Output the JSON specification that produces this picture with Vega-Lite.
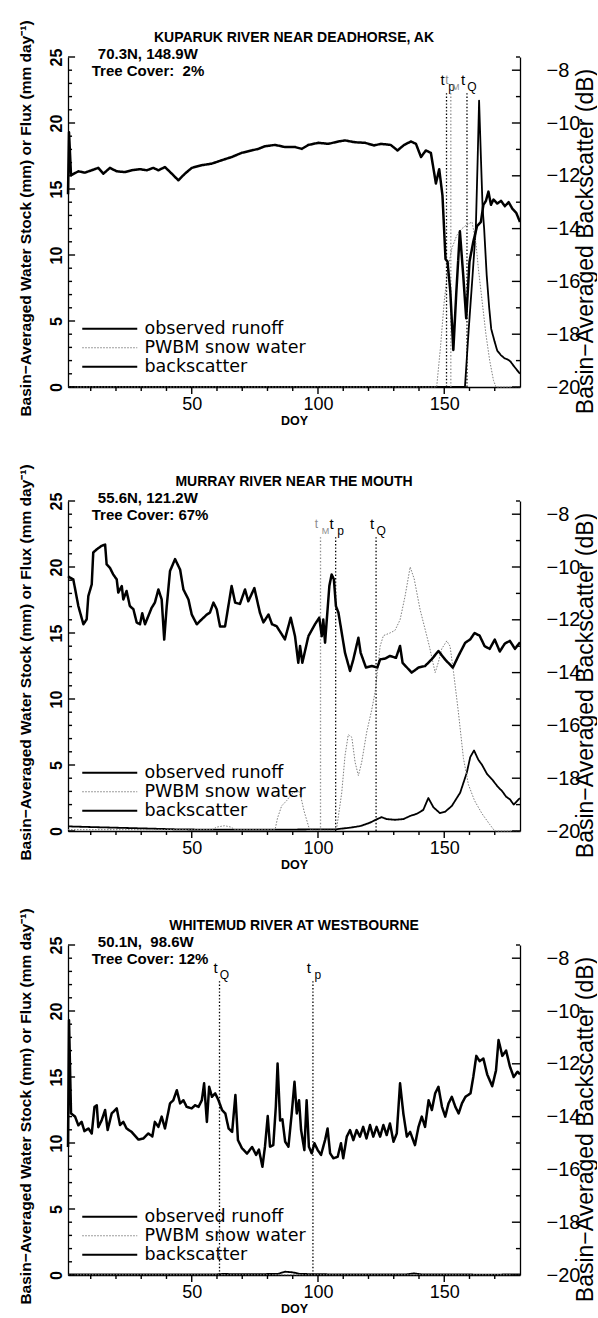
{
  "$schema": "https://vega.github.io/schema/vega-lite/v6.json",
  "background": "white",
  "padding": {"left": 17, "top": 19, "right": 0, "bottom": 0},
  "config": {
    "view": {"stroke": null},
    "font": "Liberation Sans",
    "axis": {"grid": false, "ticks": false, "domainColor": "black", "labelColor": "black", "titleColor": "black", "domainWidth": 1.3, "labelFont": "Liberation Sans", "titleFont": "Liberation Sans", "labelOverlap": false},
    "rule": {"color": "black"},
    "text": {"font": "Liberation Sans", "color": "black"}
  },
  "datasets": {
    "xticks": [{"doy":10},{"doy":20},{"doy":30},{"doy":40},{"doy":50},{"doy":60},{"doy":70},{"doy":80},{"doy":90},{"doy":100},{"doy":110},{"doy":120},{"doy":130},{"doy":140},{"doy":150},{"doy":160},{"doy":170}],
    "lticks": [{"v":0},{"v":1},{"v":2},{"v":3},{"v":4},{"v":5},{"v":6},{"v":7},{"v":8},{"v":9},{"v":10},{"v":11},{"v":12},{"v":13},{"v":14},{"v":15},{"v":16},{"v":17},{"v":18},{"v":19},{"v":20},{"v":21},{"v":22},{"v":23},{"v":24},{"v":25}],
    "rticks": [{"v":-20},{"v":-19},{"v":-18},{"v":-17},{"v":-16},{"v":-15},{"v":-14},{"v":-13},{"v":-12},{"v":-11},{"v":-10},{"v":-9},{"v":-8},{"v":-7.5}],
    "kuparuk": [
      {"doy":1,"series":"observed runoff","v":0},{"doy":158.2,"series":"observed runoff","v":0},{"doy":159.7,"series":"observed runoff","v":4.4},{"doy":161.2,"series":"observed runoff","v":8.4},{"doy":162.5,"series":"observed runoff","v":12},{"doy":163.2,"series":"observed runoff","v":17},{"doy":163.8,"series":"observed runoff","v":21.7},{"doy":164.5,"series":"observed runoff","v":17.5},{"doy":165.2,"series":"observed runoff","v":13.5},{"doy":165.8,"series":"observed runoff","v":12},{"doy":166.8,"series":"observed runoff","v":8.5},{"doy":167.8,"series":"observed runoff","v":6},{"doy":168.6,"series":"observed runoff","v":4.4},{"doy":170,"series":"observed runoff","v":3.4},{"doy":171,"series":"observed runoff","v":2.75},{"doy":172.5,"series":"observed runoff","v":2.4},{"doy":173.9,"series":"observed runoff","v":2.17},{"doy":175,"series":"observed runoff","v":2.1},{"doy":176.2,"series":"observed runoff","v":1.94},{"doy":177.5,"series":"observed runoff","v":1.6},{"doy":178.5,"series":"observed runoff","v":1.36},{"doy":180,"series":"observed runoff","v":1},
      {"doy":1,"series":"PWBM snow water","v":0},{"doy":147,"series":"PWBM snow water","v":0},{"doy":148.5,"series":"PWBM snow water","v":3},{"doy":150,"series":"PWBM snow water","v":6.5},{"doy":151.5,"series":"PWBM snow water","v":9},{"doy":153,"series":"PWBM snow water","v":10.5},{"doy":155,"series":"PWBM snow water","v":11.5},{"doy":157,"series":"PWBM snow water","v":12},{"doy":159,"series":"PWBM snow water","v":12.3},{"doy":161,"series":"PWBM snow water","v":12.5},{"doy":162.5,"series":"PWBM snow water","v":11},{"doy":163.5,"series":"PWBM snow water","v":9},{"doy":165,"series":"PWBM snow water","v":6.5},{"doy":166.5,"series":"PWBM snow water","v":4},{"doy":168,"series":"PWBM snow water","v":2},{"doy":169.5,"series":"PWBM snow water","v":0.5},{"doy":170.5,"series":"PWBM snow water","v":0},{"doy":180,"series":"PWBM snow water","v":0},
      {"doy":1,"series":"backscatter","v":-12.7},{"doy":1.4,"series":"backscatter","v":-10.35},{"doy":2.2,"series":"backscatter","v":-11.98},{"doy":5.1,"series":"backscatter","v":-11.83},{"doy":7.7,"series":"backscatter","v":-11.88},{"doy":10.4,"series":"backscatter","v":-11.79},{"doy":13,"series":"backscatter","v":-11.7},{"doy":15,"series":"backscatter","v":-11.92},{"doy":17.6,"series":"backscatter","v":-11.7},{"doy":20.3,"series":"backscatter","v":-11.83},{"doy":23.6,"series":"backscatter","v":-11.86},{"doy":26.2,"series":"backscatter","v":-11.79},{"doy":29.5,"series":"backscatter","v":-11.75},{"doy":32.2,"series":"backscatter","v":-11.79},{"doy":34.8,"series":"backscatter","v":-11.7},{"doy":36.8,"series":"backscatter","v":-11.79},{"doy":39.4,"series":"backscatter","v":-11.67},{"doy":42.1,"series":"backscatter","v":-11.92},{"doy":44.7,"series":"backscatter","v":-12.17},{"doy":47.3,"series":"backscatter","v":-11.92},{"doy":50,"series":"backscatter","v":-11.7},{"doy":53.9,"series":"backscatter","v":-11.6},{"doy":57.9,"series":"backscatter","v":-11.54},{"doy":61.9,"series":"backscatter","v":-11.41},{"doy":65.8,"series":"backscatter","v":-11.29},{"doy":69.8,"series":"backscatter","v":-11.13},{"doy":73.7,"series":"backscatter","v":-11.04},{"doy":76.4,"series":"backscatter","v":-10.98},{"doy":79,"series":"backscatter","v":-10.88},{"doy":83,"series":"backscatter","v":-10.83},{"doy":86.9,"series":"backscatter","v":-10.91},{"doy":90.9,"series":"backscatter","v":-10.91},{"doy":93.6,"series":"backscatter","v":-10.98},{"doy":96.2,"series":"backscatter","v":-10.83},{"doy":100.2,"series":"backscatter","v":-10.75},{"doy":104.1,"series":"backscatter","v":-10.79},{"doy":108.1,"series":"backscatter","v":-10.7},{"doy":110.7,"series":"backscatter","v":-10.66},{"doy":114.7,"series":"backscatter","v":-10.73},{"doy":118.6,"series":"backscatter","v":-10.75},{"doy":122.2,"series":"backscatter","v":-10.85},{"doy":124.9,"series":"backscatter","v":-10.79},{"doy":128.8,"series":"backscatter","v":-10.83},{"doy":131.5,"series":"backscatter","v":-11.04},{"doy":134.1,"series":"backscatter","v":-10.83},{"doy":136.8,"series":"backscatter","v":-10.7},{"doy":138.8,"series":"backscatter","v":-10.79},{"doy":140.8,"series":"backscatter","v":-11.29},{"doy":142.7,"series":"backscatter","v":-11.04},{"doy":144.7,"series":"backscatter","v":-11.13},{"doy":146.7,"series":"backscatter","v":-12.29},{"doy":148,"series":"backscatter","v":-11.75},{"doy":149.3,"series":"backscatter","v":-12.75},{"doy":150.5,"series":"backscatter","v":-15.15},{"doy":151.3,"series":"backscatter","v":-15.25},{"doy":152.4,"series":"backscatter","v":-16.38},{"doy":153.6,"series":"backscatter","v":-18.6},{"doy":154.8,"series":"backscatter","v":-16.38},{"doy":156.2,"series":"backscatter","v":-14.1},{"doy":157.5,"series":"backscatter","v":-15.75},{"doy":158.7,"series":"backscatter","v":-17.4},{"doy":160,"series":"backscatter","v":-15.25},{"doy":161.5,"series":"backscatter","v":-14.5},{"doy":163,"series":"backscatter","v":-13.9},{"doy":164.5,"series":"backscatter","v":-13.75},{"doy":165.5,"series":"backscatter","v":-13.1},{"doy":166.5,"series":"backscatter","v":-12.95},{"doy":167.5,"series":"backscatter","v":-12.6},{"doy":168.5,"series":"backscatter","v":-13.1},{"doy":169.5,"series":"backscatter","v":-12.9},{"doy":171,"series":"backscatter","v":-13.05},{"doy":172.5,"series":"backscatter","v":-12.95},{"doy":174,"series":"backscatter","v":-13.15},{"doy":175.5,"series":"backscatter","v":-13},{"doy":177,"series":"backscatter","v":-13.25},{"doy":178.5,"series":"backscatter","v":-13.4},{"doy":180,"series":"backscatter","v":-13.75}
    ],
    "kuparuk_t": [{"doy":150.9,"sub":"p"},{"doy":152.6,"sub":"M"},{"doy":159,"sub":"Q"}],
    "murray": [
      {"doy":1,"series":"observed runoff","v":0.35},{"doy":10,"series":"observed runoff","v":0.3},{"doy":20,"series":"observed runoff","v":0.25},{"doy":30,"series":"observed runoff","v":0.2},{"doy":45,"series":"observed runoff","v":0.12},{"doy":60,"series":"observed runoff","v":0.1},{"doy":80,"series":"observed runoff","v":0.1},{"doy":100,"series":"observed runoff","v":0.12},{"doy":107,"series":"observed runoff","v":0.13},{"doy":112.7,"series":"observed runoff","v":0.25},{"doy":116.9,"series":"observed runoff","v":0.38},{"doy":120.6,"series":"observed runoff","v":0.63},{"doy":123.2,"series":"observed runoff","v":0.88},{"doy":125.2,"series":"observed runoff","v":1.05},{"doy":127.2,"series":"observed runoff","v":0.9},{"doy":130.5,"series":"observed runoff","v":0.85},{"doy":133.8,"series":"observed runoff","v":0.9},{"doy":136.5,"series":"observed runoff","v":1.14},{"doy":139.1,"series":"observed runoff","v":1.3},{"doy":141.7,"series":"observed runoff","v":1.6},{"doy":143.7,"series":"observed runoff","v":2.5},{"doy":145.7,"series":"observed runoff","v":1.8},{"doy":148.3,"series":"observed runoff","v":1.35},{"doy":150.3,"series":"observed runoff","v":1.45},{"doy":153,"series":"observed runoff","v":1.9},{"doy":156.3,"series":"observed runoff","v":2.9},{"doy":158.9,"series":"observed runoff","v":4.4},{"doy":160.3,"series":"observed runoff","v":5.6},{"doy":161.8,"series":"observed runoff","v":6.1},{"doy":163.5,"series":"observed runoff","v":5.4},{"doy":165,"series":"observed runoff","v":5},{"doy":167,"series":"observed runoff","v":4.3},{"doy":169,"series":"observed runoff","v":3.9},{"doy":171,"series":"observed runoff","v":3.4},{"doy":173,"series":"observed runoff","v":3},{"doy":174.5,"series":"observed runoff","v":2.6},{"doy":176,"series":"observed runoff","v":2.4},{"doy":177.5,"series":"observed runoff","v":2},{"doy":179,"series":"observed runoff","v":2.3},{"doy":180,"series":"observed runoff","v":2.5},
      {"doy":1,"series":"PWBM snow water","v":0.1},{"doy":58,"series":"PWBM snow water","v":0.1},{"doy":60,"series":"PWBM snow water","v":0.3},{"doy":63,"series":"PWBM snow water","v":0.4},{"doy":65.5,"series":"PWBM snow water","v":0.3},{"doy":67,"series":"PWBM snow water","v":0.1},{"doy":83,"series":"PWBM snow water","v":0.1},{"doy":84,"series":"PWBM snow water","v":1},{"doy":85.6,"series":"PWBM snow water","v":1.9},{"doy":87.6,"series":"PWBM snow water","v":2.3},{"doy":89.6,"series":"PWBM snow water","v":2.8},{"doy":92.2,"series":"PWBM snow water","v":3.1},{"doy":93.2,"series":"PWBM snow water","v":2.6},{"doy":94.5,"series":"PWBM snow water","v":1.5},{"doy":96.5,"series":"PWBM snow water","v":0.2},{"doy":98,"series":"PWBM snow water","v":0.05},{"doy":106.5,"series":"PWBM snow water","v":0.05},{"doy":107.4,"series":"PWBM snow water","v":0.2},{"doy":109.4,"series":"PWBM snow water","v":2.9},{"doy":110.7,"series":"PWBM snow water","v":5.7},{"doy":112,"series":"PWBM snow water","v":7.3},{"doy":113.4,"series":"PWBM snow water","v":7.1},{"doy":114.7,"series":"PWBM snow water","v":5.2},{"doy":116,"series":"PWBM snow water","v":4.2},{"doy":117.3,"series":"PWBM snow water","v":5.2},{"doy":119.3,"series":"PWBM snow water","v":7.5},{"doy":121.3,"series":"PWBM snow water","v":9.2},{"doy":122.6,"series":"PWBM snow water","v":10.5},{"doy":123.5,"series":"PWBM snow water","v":12},{"doy":124.6,"series":"PWBM snow water","v":14},{"doy":125.9,"series":"PWBM snow water","v":14.8},{"doy":128.5,"series":"PWBM snow water","v":15},{"doy":130.5,"series":"PWBM snow water","v":15.2},{"doy":132.5,"series":"PWBM snow water","v":16},{"doy":134.5,"series":"PWBM snow water","v":17.8},{"doy":136.5,"series":"PWBM snow water","v":20},{"doy":138.1,"series":"PWBM snow water","v":19.1},{"doy":140.4,"series":"PWBM snow water","v":16.8},{"doy":142.4,"series":"PWBM snow water","v":15.3},{"doy":144.1,"series":"PWBM snow water","v":14},{"doy":146.4,"series":"PWBM snow water","v":12},{"doy":147.7,"series":"PWBM snow water","v":12.8},{"doy":149,"series":"PWBM snow water","v":13.8},{"doy":151,"series":"PWBM snow water","v":14.4},{"doy":152.3,"series":"PWBM snow water","v":14},{"doy":153.7,"series":"PWBM snow water","v":12},{"doy":155.6,"series":"PWBM snow water","v":9},{"doy":157.6,"series":"PWBM snow water","v":5.5},{"doy":159.6,"series":"PWBM snow water","v":3.5},{"doy":162,"series":"PWBM snow water","v":2.3},{"doy":165,"series":"PWBM snow water","v":1.3},{"doy":168,"series":"PWBM snow water","v":0.5},{"doy":170,"series":"PWBM snow water","v":0},{"doy":180,"series":"PWBM snow water","v":0},
      {"doy":1,"series":"backscatter","v":-10.35},{"doy":1.8,"series":"backscatter","v":-10.4},{"doy":3.1,"series":"backscatter","v":-10.47},{"doy":5.1,"series":"backscatter","v":-11.48},{"doy":7.1,"series":"backscatter","v":-12.17},{"doy":8.4,"series":"backscatter","v":-11.98},{"doy":9.05,"series":"backscatter","v":-11.1},{"doy":10.4,"series":"backscatter","v":-10.66},{"doy":11,"series":"backscatter","v":-9.45},{"doy":12.4,"series":"backscatter","v":-9.33},{"doy":14.3,"series":"backscatter","v":-9.2},{"doy":15.7,"series":"backscatter","v":-9.15},{"doy":16.3,"series":"backscatter","v":-9.9},{"doy":17.6,"series":"backscatter","v":-10.03},{"doy":18.9,"series":"backscatter","v":-10.28},{"doy":20.3,"series":"backscatter","v":-10.47},{"doy":20.9,"series":"backscatter","v":-10.97},{"doy":22.3,"series":"backscatter","v":-10.72},{"doy":22.9,"series":"backscatter","v":-11.23},{"doy":24.2,"series":"backscatter","v":-10.91},{"doy":25.5,"series":"backscatter","v":-11.48},{"doy":26.9,"series":"backscatter","v":-11.6},{"doy":28.2,"series":"backscatter","v":-12.1},{"doy":29.5,"series":"backscatter","v":-12.17},{"doy":30.4,"series":"backscatter","v":-11.75},{"doy":31.5,"series":"backscatter","v":-12.17},{"doy":34.1,"series":"backscatter","v":-11.55},{"doy":35.4,"series":"backscatter","v":-11.35},{"doy":36.8,"series":"backscatter","v":-10.85},{"doy":38.1,"series":"backscatter","v":-11.23},{"doy":39.1,"series":"backscatter","v":-12.75},{"doy":40.1,"series":"backscatter","v":-11.48},{"doy":41.4,"series":"backscatter","v":-10.15},{"doy":43.4,"series":"backscatter","v":-9.7},{"doy":45.4,"series":"backscatter","v":-10.1},{"doy":46.7,"series":"backscatter","v":-10.85},{"doy":48.7,"series":"backscatter","v":-11.23},{"doy":50,"series":"backscatter","v":-11.8},{"doy":52,"series":"backscatter","v":-12.17},{"doy":54,"series":"backscatter","v":-11.98},{"doy":56,"series":"backscatter","v":-11.8},{"doy":57.2,"series":"backscatter","v":-11.73},{"doy":58.6,"series":"backscatter","v":-11.35},{"doy":59.9,"series":"backscatter","v":-11.6},{"doy":61.2,"series":"backscatter","v":-12.25},{"doy":63.2,"series":"backscatter","v":-12.25},{"doy":65.8,"series":"backscatter","v":-10.72},{"doy":67.2,"series":"backscatter","v":-11.35},{"doy":69.1,"series":"backscatter","v":-11.4},{"doy":71.1,"series":"backscatter","v":-10.85},{"doy":72.4,"series":"backscatter","v":-11.3},{"doy":74.8,"series":"backscatter","v":-10.8},{"doy":77,"series":"backscatter","v":-11.73},{"doy":78.4,"series":"backscatter","v":-12.1},{"doy":80.4,"series":"backscatter","v":-11.8},{"doy":81.8,"series":"backscatter","v":-12.17},{"doy":83.6,"series":"backscatter","v":-12.24},{"doy":86.9,"series":"backscatter","v":-12.74},{"doy":89.2,"series":"backscatter","v":-11.92},{"doy":90.9,"series":"backscatter","v":-12.62},{"doy":92.2,"series":"backscatter","v":-13.63},{"doy":92.9,"series":"backscatter","v":-12.99},{"doy":93.8,"series":"backscatter","v":-13.63},{"doy":96.2,"series":"backscatter","v":-12.62},{"doy":98.8,"series":"backscatter","v":-12.17},{"doy":100.5,"series":"backscatter","v":-11.92},{"doy":101.5,"series":"backscatter","v":-12.62},{"doy":102.1,"series":"backscatter","v":-11.99},{"doy":102.8,"series":"backscatter","v":-12.87},{"doy":104.5,"series":"backscatter","v":-10.72},{"doy":105.4,"series":"backscatter","v":-10.28},{"doy":106.3,"series":"backscatter","v":-10.47},{"doy":107.1,"series":"backscatter","v":-11.48},{"doy":108.1,"series":"backscatter","v":-11.73},{"doy":109.4,"series":"backscatter","v":-12.49},{"doy":110.7,"series":"backscatter","v":-13.25},{"doy":112.7,"series":"backscatter","v":-13.94},{"doy":114,"series":"backscatter","v":-13.5},{"doy":116,"series":"backscatter","v":-12.68},{"doy":116.9,"series":"backscatter","v":-13.25},{"doy":119,"series":"backscatter","v":-13.81},{"doy":121.3,"series":"backscatter","v":-13.75},{"doy":123.5,"series":"backscatter","v":-13.81},{"doy":124.6,"series":"backscatter","v":-13.5},{"doy":126.5,"series":"backscatter","v":-13.47},{"doy":128.5,"series":"backscatter","v":-13.37},{"doy":130.9,"series":"backscatter","v":-13.44},{"doy":132.5,"series":"backscatter","v":-12.99},{"doy":133.5,"series":"backscatter","v":-13.63},{"doy":137.1,"series":"backscatter","v":-14},{"doy":139.8,"series":"backscatter","v":-13.81},{"doy":142.4,"series":"backscatter","v":-13.75},{"doy":145,"series":"backscatter","v":-13.5},{"doy":147.7,"series":"backscatter","v":-13.18},{"doy":150.3,"series":"backscatter","v":-13.5},{"doy":153.4,"series":"backscatter","v":-13.81},{"doy":155.6,"series":"backscatter","v":-13.37},{"doy":158.3,"series":"backscatter","v":-12.87},{"doy":160.3,"series":"backscatter","v":-12.74},{"doy":162,"series":"backscatter","v":-12.5},{"doy":164,"series":"backscatter","v":-12.6},{"doy":166,"series":"backscatter","v":-13},{"doy":168,"series":"backscatter","v":-13.1},{"doy":170,"series":"backscatter","v":-12.75},{"doy":172,"series":"backscatter","v":-13.2},{"doy":174,"series":"backscatter","v":-12.9},{"doy":176,"series":"backscatter","v":-12.8},{"doy":178,"series":"backscatter","v":-13.1},{"doy":180,"series":"backscatter","v":-12.85}
    ],
    "murray_t": [{"doy":101,"sub":"M"},{"doy":107,"sub":"p"},{"doy":123,"sub":"Q"}],
    "whitemud": [
      {"doy":1,"series":"observed runoff","v":0.05},{"doy":60,"series":"observed runoff","v":0.05},{"doy":62,"series":"observed runoff","v":0.08},{"doy":70,"series":"observed runoff","v":0.06},{"doy":84,"series":"observed runoff","v":0.08},{"doy":87,"series":"observed runoff","v":0.25},{"doy":90,"series":"observed runoff","v":0.2},{"doy":93,"series":"observed runoff","v":0.08},{"doy":110,"series":"observed runoff","v":0.04},{"doy":135,"series":"observed runoff","v":0.05},{"doy":138,"series":"observed runoff","v":0.12},{"doy":141,"series":"observed runoff","v":0.05},{"doy":170,"series":"observed runoff","v":0.03},{"doy":180,"series":"observed runoff","v":0.05},
      {"doy":1,"series":"PWBM snow water","v":0.02},{"doy":180,"series":"PWBM snow water","v":0.02},
      {"doy":1,"series":"backscatter","v":-15.15},{"doy":1.4,"series":"backscatter","v":-10.35},{"doy":2.2,"series":"backscatter","v":-13.88},{"doy":3.8,"series":"backscatter","v":-14},{"doy":5.1,"series":"backscatter","v":-14.33},{"doy":6.4,"series":"backscatter","v":-14.2},{"doy":7.5,"series":"backscatter","v":-14.55},{"doy":9.1,"series":"backscatter","v":-14.45},{"doy":10.4,"series":"backscatter","v":-14.64},{"doy":11.5,"series":"backscatter","v":-13.63},{"doy":12.4,"series":"backscatter","v":-13.57},{"doy":13,"series":"backscatter","v":-14.4},{"doy":14.3,"series":"backscatter","v":-14.15},{"doy":15.7,"series":"backscatter","v":-13.75},{"doy":16.7,"series":"backscatter","v":-14.51},{"doy":18.3,"series":"backscatter","v":-13.88},{"doy":20.3,"series":"backscatter","v":-13.69},{"doy":21.6,"series":"backscatter","v":-14.32},{"doy":22.9,"series":"backscatter","v":-14.2},{"doy":24.2,"series":"backscatter","v":-14.45},{"doy":26.2,"series":"backscatter","v":-14.58},{"doy":28.9,"series":"backscatter","v":-14.87},{"doy":30.8,"series":"backscatter","v":-14.83},{"doy":32.8,"series":"backscatter","v":-14.64},{"doy":34.4,"series":"backscatter","v":-14.75},{"doy":35.4,"series":"backscatter","v":-14.2},{"doy":36.8,"series":"backscatter","v":-14.39},{"doy":38.1,"series":"backscatter","v":-14},{"doy":39.4,"series":"backscatter","v":-14.45},{"doy":41.4,"series":"backscatter","v":-13.5},{"doy":42.7,"series":"backscatter","v":-13.38},{"doy":44.1,"series":"backscatter","v":-13},{"doy":45.4,"series":"backscatter","v":-13.5},{"doy":46.7,"series":"backscatter","v":-13.38},{"doy":48,"series":"backscatter","v":-13.63},{"doy":50,"series":"backscatter","v":-13.69},{"doy":51.3,"series":"backscatter","v":-13.57},{"doy":52.7,"series":"backscatter","v":-13.63},{"doy":54,"series":"backscatter","v":-13.38},{"doy":54.9,"series":"backscatter","v":-12.74},{"doy":56,"series":"backscatter","v":-14.2},{"doy":56.9,"series":"backscatter","v":-12.87},{"doy":58,"series":"backscatter","v":-13.25},{"doy":59.3,"series":"backscatter","v":-13.12},{"doy":60.6,"series":"backscatter","v":-13.38},{"doy":62,"series":"backscatter","v":-13.75},{"doy":63.3,"series":"backscatter","v":-13.88},{"doy":64.6,"series":"backscatter","v":-14.45},{"doy":66,"series":"backscatter","v":-14.58},{"doy":67.3,"series":"backscatter","v":-13.18},{"doy":68.3,"series":"backscatter","v":-14.89},{"doy":69.9,"series":"backscatter","v":-15.2},{"doy":71.9,"series":"backscatter","v":-15.4},{"doy":73.9,"series":"backscatter","v":-15.15},{"doy":75.5,"series":"backscatter","v":-15.45},{"doy":76.6,"series":"backscatter","v":-15.25},{"doy":78,"series":"backscatter","v":-15.9},{"doy":79,"series":"backscatter","v":-15.14},{"doy":80.1,"series":"backscatter","v":-13.98},{"doy":81,"series":"backscatter","v":-15.14},{"doy":82.3,"series":"backscatter","v":-15.08},{"doy":83.3,"series":"backscatter","v":-13.63},{"doy":84,"series":"backscatter","v":-11.99},{"doy":85,"series":"backscatter","v":-14.15},{"doy":85.9,"series":"backscatter","v":-14.1},{"doy":87,"series":"backscatter","v":-14.95},{"doy":88.3,"series":"backscatter","v":-15.14},{"doy":89.6,"series":"backscatter","v":-13.88},{"doy":90.7,"series":"backscatter","v":-12.68},{"doy":91.6,"series":"backscatter","v":-13.88},{"doy":92.5,"series":"backscatter","v":-13.38},{"doy":93.3,"series":"backscatter","v":-14.5},{"doy":94.6,"series":"backscatter","v":-15.27},{"doy":95.5,"series":"backscatter","v":-13.38},{"doy":96.4,"series":"backscatter","v":-15.14},{"doy":97.5,"series":"backscatter","v":-15.39},{"doy":98.6,"series":"backscatter","v":-15.01},{"doy":99.9,"series":"backscatter","v":-15.27},{"doy":101.2,"series":"backscatter","v":-15.45},{"doy":102.8,"series":"backscatter","v":-14.89},{"doy":103.8,"series":"backscatter","v":-14.45},{"doy":104.8,"series":"backscatter","v":-15.39},{"doy":106.1,"series":"backscatter","v":-15.58},{"doy":107.8,"series":"backscatter","v":-15.52},{"doy":109.1,"series":"backscatter","v":-15.01},{"doy":110,"series":"backscatter","v":-15.58},{"doy":111.4,"series":"backscatter","v":-14.76},{"doy":112.7,"series":"backscatter","v":-14.51},{"doy":114,"series":"backscatter","v":-14.89},{"doy":115.3,"series":"backscatter","v":-14.51},{"doy":116.6,"series":"backscatter","v":-14.76},{"doy":117.9,"series":"backscatter","v":-14.39},{"doy":119.2,"series":"backscatter","v":-14.83},{"doy":120.6,"series":"backscatter","v":-14.32},{"doy":121.9,"series":"backscatter","v":-14.76},{"doy":123.2,"series":"backscatter","v":-14.39},{"doy":124.6,"series":"backscatter","v":-14.76},{"doy":125.9,"series":"backscatter","v":-14.32},{"doy":127.2,"series":"backscatter","v":-14.7},{"doy":128.5,"series":"backscatter","v":-14.26},{"doy":129.9,"series":"backscatter","v":-14.95},{"doy":131.2,"series":"backscatter","v":-14.64},{"doy":132.5,"series":"backscatter","v":-12.74},{"doy":133.8,"series":"backscatter","v":-13.88},{"doy":135.2,"series":"backscatter","v":-14.76},{"doy":136.5,"series":"backscatter","v":-14.58},{"doy":138.4,"series":"backscatter","v":-15.08},{"doy":139.8,"series":"backscatter","v":-14.39},{"doy":141.1,"series":"backscatter","v":-14},{"doy":142.4,"series":"backscatter","v":-14.39},{"doy":143.8,"series":"backscatter","v":-13.38},{"doy":145.1,"series":"backscatter","v":-13.75},{"doy":146.4,"series":"backscatter","v":-13.12},{"doy":147.7,"series":"backscatter","v":-12.87},{"doy":149.1,"series":"backscatter","v":-13.63},{"doy":150.4,"series":"backscatter","v":-14},{"doy":151.7,"series":"backscatter","v":-13.5},{"doy":153,"series":"backscatter","v":-13.25},{"doy":154.4,"series":"backscatter","v":-13.63},{"doy":155.7,"series":"backscatter","v":-13.88},{"doy":157,"series":"backscatter","v":-13.5},{"doy":158.4,"series":"backscatter","v":-13.25},{"doy":160.4,"series":"backscatter","v":-13.12},{"doy":161.5,"series":"backscatter","v":-12.5},{"doy":162.7,"series":"backscatter","v":-11.7},{"doy":164,"series":"backscatter","v":-11.9},{"doy":165.5,"series":"backscatter","v":-11.8},{"doy":167,"series":"backscatter","v":-12.4},{"doy":169,"series":"backscatter","v":-12.85},{"doy":170.5,"series":"backscatter","v":-12.25},{"doy":171.5,"series":"backscatter","v":-11.1},{"doy":173,"series":"backscatter","v":-11.7},{"doy":174.5,"series":"backscatter","v":-11.5},{"doy":176,"series":"backscatter","v":-12.1},{"doy":177.5,"series":"backscatter","v":-12.5},{"doy":179,"series":"backscatter","v":-12.3},{"doy":180,"series":"backscatter","v":-12.4}
    ],
    "whitemud_t": [{"doy":61,"sub":"Q"},{"doy":98,"sub":"p"}]
  },
  "vconcat": [
    {
      "width": 452, "height": 330,
      "layer": [
        {
          "layer": [
            {
              "data": {"name": "kuparuk"},
              "transform": [{"filter": "datum.series !== 'backscatter'"}],
              "mark": {"type": "line", "strokeJoin": "round"},
              "encoding": {
                "x": {"field": "doy", "type": "quantitative", "scale": {"domain": [1, 180], "nice": false, "zero": false},
                  "axis": {"title": "DOY", "values": [50, 100, 150], "labelFontSize": 18, "labelPadding": 8, "labelFlush": false, "titleFontSize": 12.5, "titleFontWeight": "bold", "titlePadding": 1}},
                "y": {"field": "v", "type": "quantitative", "scale": {"domain": [0, 25], "nice": false},
                  "axis": {"title": "Basin−Averaged Water Stock (mm) or Flux (mm day⁻¹)", "values": [0, 5, 10, 15, 20, 25], "labelFlush": false, "labelAngle": -90, "labelAlign": "center", "labelBaseline": "bottom", "labelFontSize": 16, "labelFontWeight": "bold", "labelPadding": 4, "titleX": -43, "titleY": 161, "titleAngle": -90, "titleAlign": "center", "titleBaseline": "middle", "titleFontSize": 15.5, "titleFontWeight": "bold"}},
                "color": {"field": "series", "type": "nominal", "scale": {"domain": ["observed runoff", "PWBM snow water", "backscatter"], "range": ["#000000", "#7d7d7d", "#000000"]},
                  "legend": {"orient": "none", "legendX": 33, "legendY": 263, "title": null, "symbolType": "M-5,0H5", "symbolSize": 121, "labelOffset": 26, "labelFont": "DejaVu Sans", "labelFontSize": 17.5, "labelLimit": 0, "labelColor": "black", "rowPadding": 0, "padding": 0,
                    "encode": {"symbols": {"update": {"stroke": {"signal": "datum.value === 'PWBM snow water' ? '#7d7d7d' : '#000000'"}, "strokeDash": {"signal": "datum.value === 'PWBM snow water' ? [1.5, 1.5] : [1, 0]"}, "strokeWidth": {"signal": "datum.value === 'PWBM snow water' ? 1 : (datum.value === 'backscatter' ? 2.2 : 1.8)"}, "opacity": {"value": 1}}}}}},
                "strokeDash": {"field": "series", "type": "nominal", "legend": null, "scale": {"domain": ["observed runoff", "PWBM snow water", "backscatter"], "range": [[1, 0], [1.5, 1.5], [1, 0]]}},
                "strokeWidth": {"field": "series", "type": "nominal", "legend": null, "scale": {"type": "ordinal", "domain": ["observed runoff", "PWBM snow water", "backscatter"], "range": [1.8, 1, 2.2]}}
              }
            },
            {"data": {"name": "xticks"}, "transform": [{"filter": "datum.doy % 50 !== 0"}], "mark": {"type": "rule", "strokeWidth": 1.4}, "encoding": {"x": {"field": "doy", "type": "quantitative"}, "y": {"datum": 0}, "y2": {"datum": -0.3}}},
            {"data": {"name": "xticks"}, "transform": [{"filter": "datum.doy % 50 === 0"}], "mark": {"type": "rule", "strokeWidth": 1.4}, "encoding": {"x": {"field": "doy", "type": "quantitative"}, "y": {"datum": 0}, "y2": {"datum": -0.53}}},
            {"data": {"name": "lticks"}, "transform": [{"filter": "datum.v % 5 !== 0"}], "mark": {"type": "rule", "strokeWidth": 1.4}, "encoding": {"y": {"field": "v", "type": "quantitative"}, "x": {"datum": 1}, "x2": {"datum": 2.6}}},
            {"data": {"name": "lticks"}, "transform": [{"filter": "datum.v % 5 === 0"}], "mark": {"type": "rule", "strokeWidth": 1.4}, "encoding": {"y": {"field": "v", "type": "quantitative"}, "x": {"datum": 1}, "x2": {"datum": 3.8}}},
            {
              "data": {"name": "kuparuk_t"},
              "mark": {"type": "rule", "strokeDash": [1.4, 2], "strokeWidth": 1.3},
              "encoding": {"x": {"field": "doy", "type": "quantitative"}, "y": {"datum": 0}, "y2": {"datum": 22.4},
                "color": {"condition": {"test": "datum.sub === 'M'", "value": "#8c8c8c"}, "value": "black"}}
            },
            {
              "data": {"name": "kuparuk_t"},
              "mark": {"type": "text", "text": "t", "baseline": "middle", "dx": -4},
              "encoding": {"x": {"field": "doy", "type": "quantitative"}, "y": {"datum": 23.25},
                "size": {"condition": {"test": "datum.sub === 'M'", "value": 12}, "value": 15},
                "color": {"condition": {"test": "datum.sub === 'M'", "value": "#8c8c8c"}, "value": "black"}}
            },
            {
              "data": {"name": "kuparuk_t"},
              "mark": {"type": "text", "baseline": "middle", "dx": 5},
              "encoding": {"x": {"field": "doy", "type": "quantitative"}, "y": {"datum": 22.75}, "text": {"field": "sub"},
                "size": {"condition": {"test": "datum.sub === 'M'", "value": 9}, "value": 12},
                "color": {"condition": {"test": "datum.sub === 'M'", "value": "#8c8c8c"}, "value": "black"}}
            },
            {
              "data": {"values": [{"label": "KUPARUK RIVER NEAR DEADHORSE, AK"}]},
              "mark": {"type": "text", "baseline": "middle", "align": "center", "fontSize": 14, "fontWeight": "bold"},
              "encoding": {"x": {"datum": 90.5}, "y": {"datum": 26.45}, "text": {"field": "label"}}
            },
            {
              "data": {"values": [{"label": "70.3N, 148.9W"}]},
              "mark": {"type": "text", "baseline": "middle", "align": "left", "fontSize": 15, "fontWeight": "bold"},
              "encoding": {"x": {"datum": 12.8}, "y": {"datum": 25.2}, "text": {"field": "label"}}
            },
            {
              "data": {"values": [{"label": "Tree Cover: \u00a02%"}]},
              "mark": {"type": "text", "baseline": "middle", "align": "left", "fontSize": 15, "fontWeight": "bold"},
              "encoding": {"x": {"datum": 10.4}, "y": {"datum": 23.95}, "text": {"field": "label"}}
            }
          ]
        },
        {
          "layer": [
            {
              "data": {"name": "kuparuk"},
              "transform": [{"filter": "datum.series === 'backscatter'"}],
              "mark": {"type": "line", "strokeJoin": "round"},
              "encoding": {
                "x": {"field": "doy", "type": "quantitative"},
                "y": {"field": "v", "type": "quantitative", "scale": {"domain": [-20, -7.5], "nice": false, "zero": false},
                  "axis": {"orient": "right", "title": "Basin−Averaged Backscatter (dB)", "values": [-20, -18, -16, -14, -12, -10, -8], "labelFlush": false, "labelFontSize": 20, "labelPadding": 26, "titleX": 65, "titleY": 184, "titleAngle": -90, "titleAlign": "center", "titleBaseline": "middle", "titleFontSize": 23, "titleFontWeight": "normal"}},
                "color": {"field": "series", "type": "nominal"},
                "strokeDash": {"field": "series", "type": "nominal", "legend": null},
                "strokeWidth": {"field": "series", "type": "nominal", "legend": null}
              }
            },
            {"data": {"name": "rticks"}, "transform": [{"filter": "datum.v % 2 !== 0"}], "mark": {"type": "rule", "strokeWidth": 1.4}, "encoding": {"y": {"field": "v", "type": "quantitative"}, "x": {"datum": 178.4}, "x2": {"datum": 180}}},
            {"data": {"name": "rticks"}, "transform": [{"filter": "datum.v % 2 === 0"}], "mark": {"type": "rule", "strokeWidth": 1.4}, "encoding": {"y": {"field": "v", "type": "quantitative"}, "x": {"datum": 176.8}, "x2": {"datum": 180}}}
          ]
        }
      ],
      "resolve": {"scale": {"y": "independent"}}
    },
    {
      "width": 452, "height": 330,
      "layer": [
        {
          "layer": [
            {
              "data": {"name": "murray"},
              "transform": [{"filter": "datum.series !== 'backscatter'"}],
              "mark": {"type": "line", "strokeJoin": "round"},
              "encoding": {
                "x": {"field": "doy", "type": "quantitative", "scale": {"domain": [1, 180], "nice": false, "zero": false},
                  "axis": {"title": "DOY", "values": [50, 100, 150], "labelFontSize": 18, "labelPadding": 8, "labelFlush": false, "titleFontSize": 12.5, "titleFontWeight": "bold", "titlePadding": 1}},
                "y": {"field": "v", "type": "quantitative", "scale": {"domain": [0, 25], "nice": false},
                  "axis": {"title": "Basin−Averaged Water Stock (mm) or Flux (mm day⁻¹)", "values": [0, 5, 10, 15, 20, 25], "labelFlush": false, "labelAngle": -90, "labelAlign": "center", "labelBaseline": "bottom", "labelFontSize": 16, "labelFontWeight": "bold", "labelPadding": 4, "titleX": -43, "titleY": 161, "titleAngle": -90, "titleAlign": "center", "titleBaseline": "middle", "titleFontSize": 15.5, "titleFontWeight": "bold"}},
                "color": {"field": "series", "type": "nominal", "scale": {"domain": ["observed runoff", "PWBM snow water", "backscatter"], "range": ["#000000", "#7d7d7d", "#000000"]},
                  "legend": {"orient": "none", "legendX": 33, "legendY": 263, "title": null, "symbolType": "M-5,0H5", "symbolSize": 121, "labelOffset": 26, "labelFont": "DejaVu Sans", "labelFontSize": 17.5, "labelLimit": 0, "labelColor": "black", "rowPadding": 0, "padding": 0,
                    "encode": {"symbols": {"update": {"stroke": {"signal": "datum.value === 'PWBM snow water' ? '#7d7d7d' : '#000000'"}, "strokeDash": {"signal": "datum.value === 'PWBM snow water' ? [1.5, 1.5] : [1, 0]"}, "strokeWidth": {"signal": "datum.value === 'PWBM snow water' ? 1 : (datum.value === 'backscatter' ? 2.2 : 1.8)"}, "opacity": {"value": 1}}}}}},
                "strokeDash": {"field": "series", "type": "nominal", "legend": null, "scale": {"domain": ["observed runoff", "PWBM snow water", "backscatter"], "range": [[1, 0], [1.5, 1.5], [1, 0]]}},
                "strokeWidth": {"field": "series", "type": "nominal", "legend": null, "scale": {"type": "ordinal", "domain": ["observed runoff", "PWBM snow water", "backscatter"], "range": [1.8, 1, 2.2]}}
              }
            },
            {"data": {"name": "xticks"}, "transform": [{"filter": "datum.doy % 50 !== 0"}], "mark": {"type": "rule", "strokeWidth": 1.4}, "encoding": {"x": {"field": "doy", "type": "quantitative"}, "y": {"datum": 0}, "y2": {"datum": -0.3}}},
            {"data": {"name": "xticks"}, "transform": [{"filter": "datum.doy % 50 === 0"}], "mark": {"type": "rule", "strokeWidth": 1.4}, "encoding": {"x": {"field": "doy", "type": "quantitative"}, "y": {"datum": 0}, "y2": {"datum": -0.53}}},
            {"data": {"name": "lticks"}, "transform": [{"filter": "datum.v % 5 !== 0"}], "mark": {"type": "rule", "strokeWidth": 1.4}, "encoding": {"y": {"field": "v", "type": "quantitative"}, "x": {"datum": 1}, "x2": {"datum": 2.6}}},
            {"data": {"name": "lticks"}, "transform": [{"filter": "datum.v % 5 === 0"}], "mark": {"type": "rule", "strokeWidth": 1.4}, "encoding": {"y": {"field": "v", "type": "quantitative"}, "x": {"datum": 1}, "x2": {"datum": 3.8}}},
            {
              "data": {"name": "murray_t"},
              "mark": {"type": "rule", "strokeDash": [1.4, 2], "strokeWidth": 1.3},
              "encoding": {"x": {"field": "doy", "type": "quantitative"}, "y": {"datum": 0}, "y2": {"datum": 22.4},
                "color": {"condition": {"test": "datum.sub === 'M'", "value": "#8c8c8c"}, "value": "black"}}
            },
            {
              "data": {"name": "murray_t"},
              "mark": {"type": "text", "text": "t", "baseline": "middle", "dx": -4},
              "encoding": {"x": {"field": "doy", "type": "quantitative"}, "y": {"datum": 23.25},
                "size": {"condition": {"test": "datum.sub === 'M'", "value": 12}, "value": 15},
                "color": {"condition": {"test": "datum.sub === 'M'", "value": "#8c8c8c"}, "value": "black"}}
            },
            {
              "data": {"name": "murray_t"},
              "mark": {"type": "text", "baseline": "middle", "dx": 5},
              "encoding": {"x": {"field": "doy", "type": "quantitative"}, "y": {"datum": 22.75}, "text": {"field": "sub"},
                "size": {"condition": {"test": "datum.sub === 'M'", "value": 9}, "value": 12},
                "color": {"condition": {"test": "datum.sub === 'M'", "value": "#8c8c8c"}, "value": "black"}}
            },
            {
              "data": {"values": [{"label": "MURRAY RIVER NEAR THE MOUTH"}]},
              "mark": {"type": "text", "baseline": "middle", "align": "center", "fontSize": 14, "fontWeight": "bold"},
              "encoding": {"x": {"datum": 90.5}, "y": {"datum": 26.45}, "text": {"field": "label"}}
            },
            {
              "data": {"values": [{"label": "55.6N, 121.2W"}]},
              "mark": {"type": "text", "baseline": "middle", "align": "left", "fontSize": 15, "fontWeight": "bold"},
              "encoding": {"x": {"datum": 12.8}, "y": {"datum": 25.2}, "text": {"field": "label"}}
            },
            {
              "data": {"values": [{"label": "Tree Cover: 67%"}]},
              "mark": {"type": "text", "baseline": "middle", "align": "left", "fontSize": 15, "fontWeight": "bold"},
              "encoding": {"x": {"datum": 10.4}, "y": {"datum": 23.95}, "text": {"field": "label"}}
            }
          ]
        },
        {
          "layer": [
            {
              "data": {"name": "murray"},
              "transform": [{"filter": "datum.series === 'backscatter'"}],
              "mark": {"type": "line", "strokeJoin": "round"},
              "encoding": {
                "x": {"field": "doy", "type": "quantitative"},
                "y": {"field": "v", "type": "quantitative", "scale": {"domain": [-20, -7.5], "nice": false, "zero": false},
                  "axis": {"orient": "right", "title": "Basin−Averaged Backscatter (dB)", "values": [-20, -18, -16, -14, -12, -10, -8], "labelFlush": false, "labelFontSize": 20, "labelPadding": 26, "titleX": 65, "titleY": 184, "titleAngle": -90, "titleAlign": "center", "titleBaseline": "middle", "titleFontSize": 23, "titleFontWeight": "normal"}},
                "color": {"field": "series", "type": "nominal"},
                "strokeDash": {"field": "series", "type": "nominal", "legend": null},
                "strokeWidth": {"field": "series", "type": "nominal", "legend": null}
              }
            },
            {"data": {"name": "rticks"}, "transform": [{"filter": "datum.v % 2 !== 0"}], "mark": {"type": "rule", "strokeWidth": 1.4}, "encoding": {"y": {"field": "v", "type": "quantitative"}, "x": {"datum": 178.4}, "x2": {"datum": 180}}},
            {"data": {"name": "rticks"}, "transform": [{"filter": "datum.v % 2 === 0"}], "mark": {"type": "rule", "strokeWidth": 1.4}, "encoding": {"y": {"field": "v", "type": "quantitative"}, "x": {"datum": 176.8}, "x2": {"datum": 180}}}
          ]
        }
      ],
      "resolve": {"scale": {"y": "independent"}}
    },
    {
      "width": 452, "height": 330,
      "layer": [
        {
          "layer": [
            {
              "data": {"name": "whitemud"},
              "transform": [{"filter": "datum.series !== 'backscatter'"}],
              "mark": {"type": "line", "strokeJoin": "round"},
              "encoding": {
                "x": {"field": "doy", "type": "quantitative", "scale": {"domain": [1, 180], "nice": false, "zero": false},
                  "axis": {"title": "DOY", "values": [50, 100, 150], "labelFontSize": 18, "labelPadding": 8, "labelFlush": false, "titleFontSize": 12.5, "titleFontWeight": "bold", "titlePadding": 1}},
                "y": {"field": "v", "type": "quantitative", "scale": {"domain": [0, 25], "nice": false},
                  "axis": {"title": "Basin−Averaged Water Stock (mm) or Flux (mm day⁻¹)", "values": [0, 5, 10, 15, 20, 25], "labelFlush": false, "labelAngle": -90, "labelAlign": "center", "labelBaseline": "bottom", "labelFontSize": 16, "labelFontWeight": "bold", "labelPadding": 4, "titleX": -43, "titleY": 161, "titleAngle": -90, "titleAlign": "center", "titleBaseline": "middle", "titleFontSize": 15.5, "titleFontWeight": "bold"}},
                "color": {"field": "series", "type": "nominal", "scale": {"domain": ["observed runoff", "PWBM snow water", "backscatter"], "range": ["#000000", "#7d7d7d", "#000000"]},
                  "legend": {"orient": "none", "legendX": 33, "legendY": 263, "title": null, "symbolType": "M-5,0H5", "symbolSize": 121, "labelOffset": 26, "labelFont": "DejaVu Sans", "labelFontSize": 17.5, "labelLimit": 0, "labelColor": "black", "rowPadding": 0, "padding": 0,
                    "encode": {"symbols": {"update": {"stroke": {"signal": "datum.value === 'PWBM snow water' ? '#7d7d7d' : '#000000'"}, "strokeDash": {"signal": "datum.value === 'PWBM snow water' ? [1.5, 1.5] : [1, 0]"}, "strokeWidth": {"signal": "datum.value === 'PWBM snow water' ? 1 : (datum.value === 'backscatter' ? 2.2 : 1.8)"}, "opacity": {"value": 1}}}}}},
                "strokeDash": {"field": "series", "type": "nominal", "legend": null, "scale": {"domain": ["observed runoff", "PWBM snow water", "backscatter"], "range": [[1, 0], [1.5, 1.5], [1, 0]]}},
                "strokeWidth": {"field": "series", "type": "nominal", "legend": null, "scale": {"type": "ordinal", "domain": ["observed runoff", "PWBM snow water", "backscatter"], "range": [1.8, 1, 2.2]}}
              }
            },
            {"data": {"name": "xticks"}, "transform": [{"filter": "datum.doy % 50 !== 0"}], "mark": {"type": "rule", "strokeWidth": 1.4}, "encoding": {"x": {"field": "doy", "type": "quantitative"}, "y": {"datum": 0}, "y2": {"datum": -0.3}}},
            {"data": {"name": "xticks"}, "transform": [{"filter": "datum.doy % 50 === 0"}], "mark": {"type": "rule", "strokeWidth": 1.4}, "encoding": {"x": {"field": "doy", "type": "quantitative"}, "y": {"datum": 0}, "y2": {"datum": -0.53}}},
            {"data": {"name": "lticks"}, "transform": [{"filter": "datum.v % 5 !== 0"}], "mark": {"type": "rule", "strokeWidth": 1.4}, "encoding": {"y": {"field": "v", "type": "quantitative"}, "x": {"datum": 1}, "x2": {"datum": 2.6}}},
            {"data": {"name": "lticks"}, "transform": [{"filter": "datum.v % 5 === 0"}], "mark": {"type": "rule", "strokeWidth": 1.4}, "encoding": {"y": {"field": "v", "type": "quantitative"}, "x": {"datum": 1}, "x2": {"datum": 3.8}}},
            {
              "data": {"name": "whitemud_t"},
              "mark": {"type": "rule", "strokeDash": [1.4, 2], "strokeWidth": 1.3},
              "encoding": {"x": {"field": "doy", "type": "quantitative"}, "y": {"datum": 0}, "y2": {"datum": 22.4},
                "color": {"condition": {"test": "datum.sub === 'M'", "value": "#8c8c8c"}, "value": "black"}}
            },
            {
              "data": {"name": "whitemud_t"},
              "mark": {"type": "text", "text": "t", "baseline": "middle", "dx": -4},
              "encoding": {"x": {"field": "doy", "type": "quantitative"}, "y": {"datum": 23.25},
                "size": {"condition": {"test": "datum.sub === 'M'", "value": 12}, "value": 15},
                "color": {"condition": {"test": "datum.sub === 'M'", "value": "#8c8c8c"}, "value": "black"}}
            },
            {
              "data": {"name": "whitemud_t"},
              "mark": {"type": "text", "baseline": "middle", "dx": 5},
              "encoding": {"x": {"field": "doy", "type": "quantitative"}, "y": {"datum": 22.75}, "text": {"field": "sub"},
                "size": {"condition": {"test": "datum.sub === 'M'", "value": 9}, "value": 12},
                "color": {"condition": {"test": "datum.sub === 'M'", "value": "#8c8c8c"}, "value": "black"}}
            },
            {
              "data": {"values": [{"label": "WHITEMUD RIVER AT WESTBOURNE"}]},
              "mark": {"type": "text", "baseline": "middle", "align": "center", "fontSize": 14, "fontWeight": "bold"},
              "encoding": {"x": {"datum": 90.5}, "y": {"datum": 26.45}, "text": {"field": "label"}}
            },
            {
              "data": {"values": [{"label": "50.1N, \u00a098.6W"}]},
              "mark": {"type": "text", "baseline": "middle", "align": "left", "fontSize": 15, "fontWeight": "bold"},
              "encoding": {"x": {"datum": 12.8}, "y": {"datum": 25.2}, "text": {"field": "label"}}
            },
            {
              "data": {"values": [{"label": "Tree Cover: 12%"}]},
              "mark": {"type": "text", "baseline": "middle", "align": "left", "fontSize": 15, "fontWeight": "bold"},
              "encoding": {"x": {"datum": 10.4}, "y": {"datum": 23.95}, "text": {"field": "label"}}
            }
          ]
        },
        {
          "layer": [
            {
              "data": {"name": "whitemud"},
              "transform": [{"filter": "datum.series === 'backscatter'"}],
              "mark": {"type": "line", "strokeJoin": "round"},
              "encoding": {
                "x": {"field": "doy", "type": "quantitative"},
                "y": {"field": "v", "type": "quantitative", "scale": {"domain": [-20, -7.5], "nice": false, "zero": false},
                  "axis": {"orient": "right", "title": "Basin−Averaged Backscatter (dB)", "values": [-20, -18, -16, -14, -12, -10, -8], "labelFlush": false, "labelFontSize": 20, "labelPadding": 26, "titleX": 65, "titleY": 184, "titleAngle": -90, "titleAlign": "center", "titleBaseline": "middle", "titleFontSize": 23, "titleFontWeight": "normal"}},
                "color": {"field": "series", "type": "nominal"},
                "strokeDash": {"field": "series", "type": "nominal", "legend": null},
                "strokeWidth": {"field": "series", "type": "nominal", "legend": null}
              }
            },
            {"data": {"name": "rticks"}, "transform": [{"filter": "datum.v % 2 !== 0"}], "mark": {"type": "rule", "strokeWidth": 1.4}, "encoding": {"y": {"field": "v", "type": "quantitative"}, "x": {"datum": 178.4}, "x2": {"datum": 180}}},
            {"data": {"name": "rticks"}, "transform": [{"filter": "datum.v % 2 === 0"}], "mark": {"type": "rule", "strokeWidth": 1.4}, "encoding": {"y": {"field": "v", "type": "quantitative"}, "x": {"datum": 176.8}, "x2": {"datum": 180}}}
          ]
        }
      ],
      "resolve": {"scale": {"y": "independent"}}
    }
  ],
  "spacing": 114,
  "bounds": "flush",
  "resolve": {"scale": {"color": "independent", "strokeDash": "independent", "strokeWidth": "independent"}}
}
